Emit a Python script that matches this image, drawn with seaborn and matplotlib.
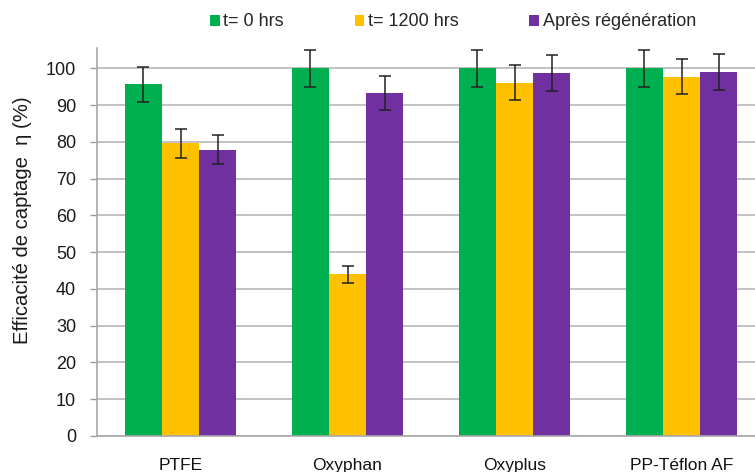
import matplotlib
matplotlib.use("Agg")
import matplotlib.pyplot as plt
import seaborn as sns
import pandas as pd
import numpy as np
from matplotlib.patches import Patch

categories = ["PTFE", "Oxyphan", "Oxyplus", "PP-Téflon AF"]
series = ["t= 0 hrs", "t= 1200 hrs", "Après régénération"]
v_t0 = [95.6, 100.0, 100.0, 100.0]
v_t1200 = [79.6, 44.0, 96.1, 97.7]
v_regen = [77.9, 93.3, 98.6, 99.0]
e_t0 = [4.8, 5.0, 5.0, 5.0]
e_t1200 = [4.0, 2.3, 4.8, 4.8]
e_regen = [3.9, 4.7, 4.9, 5.0]
yticks = list(range(0, 101, 10))
colors = ["#00B050", "#FFC000", "#7030A0"]

sns.set_style("white")
plt.rcParams["font.family"] = ["Liberation Sans", "DejaVu Sans"]

values = [v_t0, v_t1200, v_regen]
errors = [e_t0, e_t1200, e_regen]
rows = []
for s, vals, errs in zip(series, values, errors):
    for c, v, e in zip(categories, vals, errs):
        rows.append({"cat": c, "series": s, "val": v, "err": e})
df = pd.DataFrame(rows)

fig = plt.figure(figsize=(7.55, 4.72), dpi=100)
ax = fig.add_axes([97 / 755, 1 - 436 / 472, (765 - 97) / 755, (436 - 48) / 472])

sns.barplot(data=df, x="cat", y="val", hue="series", order=categories,
            hue_order=series, palette=colors, width=0.67, errorbar=None,
            saturation=1, ax=ax, legend=False, linewidth=0)

# error bars at bar centres
for patch_group, s in zip(ax.containers, series):
    sub = df[df.series == s].set_index("cat").loc[categories]
    xs = [p.get_x() + p.get_width() / 2 for p in patch_group]
    ax.errorbar(xs, sub["val"].values, yerr=sub["err"].values, fmt="none",
                ecolor="#222222", elinewidth=1.1, capsize=4, capthick=1.1, zorder=5)

ax.set_ylim(0, 105.5)
ax.set_xlim(-0.5, 3.5)
ax.set_yticks(yticks)
ax.set_yticklabels([str(t) for t in yticks], fontsize=13, color="#1a1a1a")
ax.yaxis.grid(True, color="#b8b8b8", linewidth=1.2)
ax.set_axisbelow(True)
ax.set_xticks(range(len(categories)))
ax.set_xticklabels(categories, fontsize=12.5, color="#111111")
ax.set_xticks([0.5, 1.5, 2.5], minor=True)
ax.tick_params(axis="x", which="major", length=0, pad=16)
ax.tick_params(axis="x", which="minor", length=5, color="#999999", width=1)
ax.tick_params(axis="y", which="major", length=5, color="#999999", width=1, pad=10, left=True)
ax.set_xlabel("")
ax.set_ylabel("Efficacité de captage  η (%)", fontsize=14.6, color="#1a1a1a")
ax.yaxis.set_label_coords(-0.097, 0.557)
for side in ["top", "right"]:
    ax.spines[side].set_visible(False)
for side in ["left", "bottom"]:
    ax.spines[side].set_color("#a8a8a8")
    ax.spines[side].set_linewidth(1.2)

handles = [Patch(facecolor=c, edgecolor="none") for c in colors]
fig.legend(handles, series, loc="center", bbox_to_anchor=(453 / 755, 1 - 22 / 472),
           ncol=3, frameon=False, fontsize=13, handlelength=0.55, handleheight=0.55,
           handletextpad=0.2, columnspacing=3.9, borderaxespad=0)

fig.savefig("out.png", dpi=100)
